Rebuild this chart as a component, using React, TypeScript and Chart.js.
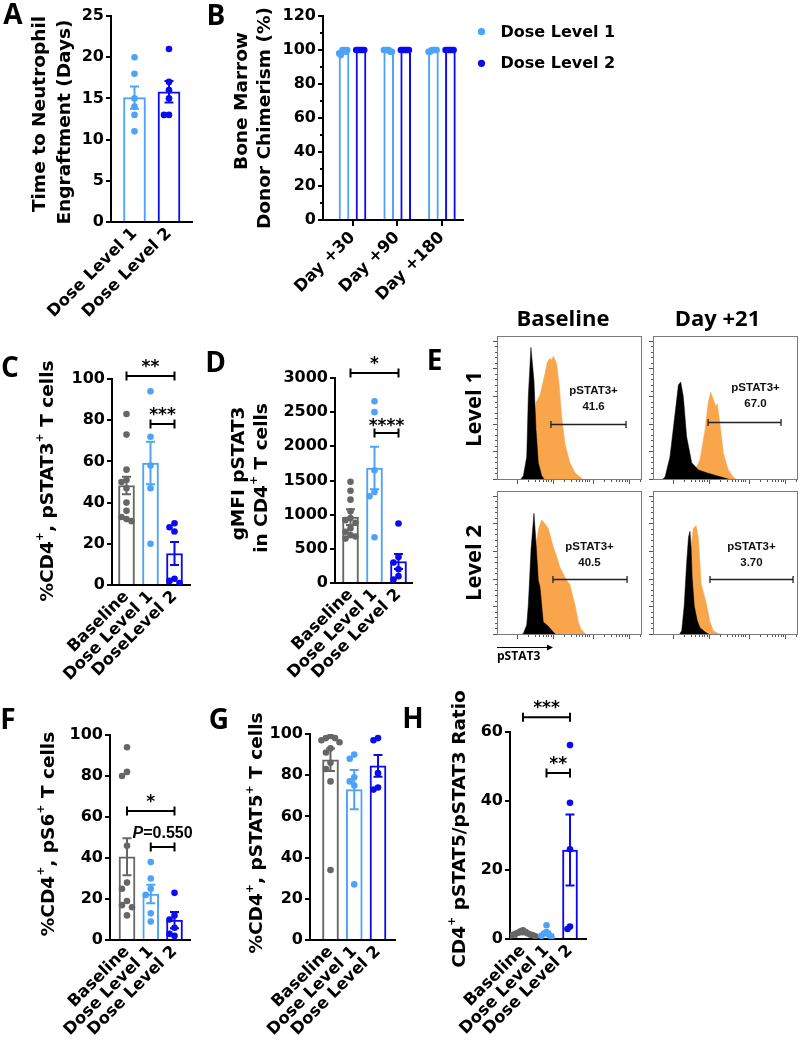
import React, { useEffect, useRef } from 'react';
import { Chart, registerables } from 'chart.js';

Chart.register(...registerables);

const GRAY = '#666666';
const LBLUE = '#4DA3F7';
const DBLUE = '#0A0AF0';
const ORANGE = '#F9A54B';
const FAM = '"DejaVu Sans", sans-serif';
const ARIAL = '"Liberation Sans", Arial, sans-serif';
const CAL = '"Open Sans", sans-serif';

// ---------------- data ----------------
// A
const A_CATS = ['Dose Level 1', 'Dose Level 2'];
const A_MEAN = [15.1, 15.8];
const A_SEM = [1.35, 1.3];
const A_PTS = [[20, 18, 15, 14, 13, 11], [21, 17, 16, 15, 13, 13]];
// B
const B_CATS = ['Day +30', 'Day +90', 'Day +180'];
const B_LEGEND = ['Dose Level 1', 'Dose Level 2'];
const B_L1_MEAN = [99.5, 99.7, 99.7];
const B_L2_MEAN = [100, 100, 100];
const B_L1_PTS = [[100, 100, 99, 97, 100, 98], [100, 100, 99, 100, 99, 100], [100, 100, 100, 99, 100, 99]];
const B_L2_PTS = [[100, 100, 100, 100, 100, 100], [100, 100, 100, 100, 100, 100], [100, 100, 100, 100, 100, 100]];
// C
const C_CATS = ['Baseline', 'Dose Level 1', 'DoseLevel 2'];
const C_MEAN = [48.3, 59.2, 15.3];
const C_SEM = [4.2, 10.3, 5.6];
const C_PTS = [[83, 73, 56, 51, 50, 47, 40, 36, 33, 32, 31], [94, 72, 58, 47, 20], [30, 28, 26, 3, 2, 1]];
// D
const D_CATS = ['Baseline', 'Dose Level 1', 'Dose Level 2'];
const D_MEAN = [965, 1683, 315];
const D_SEM = [115, 312, 110];
const D_PTS = [
  [1480, 1350, 1220, 1050, 950, 920, 880, 800, 750, 700, 680, 650],
  [2660, 2500, 1650, 1330, 1270, 670],
  [870, 380, 300, 200, 100, 50],
];
// E (flow histograms: [channel, % of max])
const E1_BLACK = [[16, 0], [18.2, 3], [20.5, 16], [21.6, 58], [23.4, 92], [25.5, 69], [26.9, 35], [28.5, 12], [30.8, 3], [33, 0]];
const E1_ORANGE = [[22, 0], [24, 20], [26.5, 50], [27, 54], [29.7, 59], [33.1, 74], [34.7, 82], [36.6, 84.5], [37.6, 83], [38.9, 86], [41.1, 81], [43, 65], [44.6, 44], [46.9, 25], [50.3, 12], [53.8, 5], [57.2, 2], [60, 0]];
const E2_BLACK = [[6, 0], [8.3, 2], [11.7, 16], [15.2, 46], [17.5, 66], [19.1, 68], [20.9, 58], [23.2, 30], [26.7, 12], [31.3, 7], [37, 5], [43.9, 3], [50.8, 1], [54, 0]];
const E2_ORANGE = [[27, 0], [29, 7], [32.4, 14], [35.9, 35], [38.1, 54], [39.8, 61], [41.6, 56], [43.4, 51], [44.3, 53], [46.2, 39], [48.5, 19], [51.9, 7], [55.4, 2], [58, 0]];
const E3_BLACK = [[16, 0], [18.2, 1], [20.5, 7], [21.6, 21], [22.3, 35], [23.5, 60], [25.5, 84.5], [26.5, 70], [28.5, 38], [29.7, 33], [31.9, 9], [35.4, 6], [38.8, 2], [41, 0]];
const E3_ORANGE = [[22, 0], [24, 25], [26, 55], [27.4, 66], [29, 75], [30.8, 80], [32.5, 78], [35.4, 74], [37, 68], [38.9, 61], [41, 55], [43.4, 47], [46, 42], [48, 38], [50.3, 35], [52, 28], [53.8, 21], [56.1, 9], [58, 4], [61.8, 0]];
const E4_BLACK = [[18, 0], [19.8, 3], [21.5, 20], [23.2, 50], [24.5, 68], [25.5, 72], [26.3, 60], [27, 40], [28.5, 20], [30.5, 10], [32.4, 5], [36, 2], [39.3, 0]];
const E4_ORANGE = [[22, 0], [24, 30], [26, 60], [27.8, 74], [29.7, 76], [31.2, 68], [32.4, 50], [33.2, 35], [34.7, 30], [37, 21], [39.3, 9], [41.6, 3], [45, 1], [50.8, 0]];
const E_VALUES = ['41.6', '67.0', '40.5', '3.70'];
const E_GATE_LABEL = 'pSTAT3+';
const E_HIST_Y_TICKS = [0, 19.2, 38.4, 57.6, 76.8, 96];
const E_HIST_X_TICKS = [13.5, 38.6, 66.2, 91];
// F
const F_CATS = ['Baseline', 'Dose Level 1', 'Dose Level 2'];
const F_MEAN = [40.6, 22.4, 9.7];
const F_SEM = [9, 4.5, 4];
const F_PTS = [[94, 82, 80, 46, 28, 25, 19, 17, 16, 12], [38, 30, 25, 22, 13, 9], [23, 12, 10, 6, 3, 2]];
// G
const G_CATS = ['Baseline', 'Dose Level 1', 'Dose Level 2'];
const G_MEAN = [87.5, 73, 84.5];
const G_SEM = [5.5, 9.5, 5.3];
const G_PTS = [[99, 98, 98, 97, 96, 93, 91, 86, 83, 77, 34], [90, 88, 79, 77, 75, 27], [98, 97, 81, 74, 73]];
// H
const H_CATS = ['Baseline', 'Dose Level 1', 'Dose Level 2'];
const H_MEAN = [1.6, 1.6, 25.8];
const H_SEM = [0.25, 0.5, 10.3];
const H_PTS = [[2.5, 2.2, 2.0, 1.8, 1.6, 1.5, 1.3, 1.2, 1.1, 1.0, 0.8], [4.0, 2.0, 1.6, 1.2, 0.9, 0.5], [56.2, 39.5, 26, 3.6, 2.9]];

// ---------------- types / helpers ----------------
type Seg = { t: string; sup?: boolean };
type Box = { x: number; y: number; w: number; h: number };
type Series = { colors: string[]; mean: number[]; sem?: number[]; pts: number[][]; off?: number };
type Bracket = { a: number; b: number; y: number; text: string; italic?: string; font?: string; gap?: number };
type BarPanel = {
  box: Box;
  plot: { l: number; t: number; r: number; b: number };
  cats: string[];
  c0: number;
  sp: number;
  yMax: number;
  yStep: number;
  yMinor?: boolean;
  barW: number;
  jitterPx: number;
  series: Series[];
  xTicks?: boolean;
  title: { lines: Seg[][]; xs: number[]; ys: number[] };
  brackets?: Bracket[];
  legend?: { x: number; y: number; label: string; color: string }[];
};

const SEQ = [0, -1, 1, -2, 2, -3, 3, -4, 4, -5, 5];
function jitter(vals: number[], thr: number): number[] {
  const placed: { v: number; k: number }[] = [];
  return vals.map((v) => {
    const used = placed.filter((p) => Math.abs(p.v - v) < thr).map((p) => p.k);
    const k = SEQ.find((s) => !used.includes(s)) ?? 0;
    placed.push({ v, k });
    return k;
  });
}

const TITLE_SIZE = 18.5;
function drawTitle(ctx: CanvasRenderingContext2D, lines: Seg[][], xs: number[], ys: number[]) {
  lines.forEach((segs, li) => {
    const fonts = segs.map((s) => `bold ${s.sup ? 11 : TITLE_SIZE}px ${FAM}`);
    const widths = segs.map((s, k) => {
      ctx.font = fonts[k];
      return ctx.measureText(s.t).width;
    });
    const total = widths.reduce((a, b) => a + b, 0);
    ctx.save();
    ctx.translate(xs[li], ys[li]);
    ctx.rotate(-Math.PI / 2);
    ctx.textBaseline = 'middle';
    ctx.textAlign = 'left';
    ctx.fillStyle = '#000';
    let cx = -total / 2;
    segs.forEach((s, k) => {
      ctx.font = fonts[k];
      ctx.fillText(s.t, cx, s.sup ? -TITLE_SIZE * 0.42 : 0);
      cx += widths[k];
    });
    ctx.restore();
  });
}

function barDecor(p: BarPanel) {
  return {
    id: 'decor',
    afterDatasetDraw(chart: any, args: any) {
      const ds = chart.data.datasets[args.index];
      if (!ds.sem) return;
      const ctx = chart.ctx;
      const x = chart.scales.x;
      const y = chart.scales.y;
      ctx.save();
      ctx.lineWidth = 2;
      ds.data.forEach((d: any, i: number) => {
        const s = ds.sem[i];
        if (!s) return;
        const px = x.getPixelForValue(d.x);
        const y1 = y.getPixelForValue(d.y - s);
        const y2 = y.getPixelForValue(d.y + s);
        ctx.strokeStyle = ds.borderColor[i];
        ctx.beginPath();
        ctx.moveTo(px, y1);
        ctx.lineTo(px, y2);
        ctx.moveTo(px - 4.5, y1);
        ctx.lineTo(px + 4.5, y1);
        ctx.moveTo(px - 4.5, y2);
        ctx.lineTo(px + 4.5, y2);
        ctx.stroke();
      });
      ctx.restore();
    },
    afterDraw(chart: any) {
      const ctx: CanvasRenderingContext2D = chart.ctx;
      const x = chart.scales.x;
      const y = chart.scales.y;
      const ca = chart.chartArea;
      ctx.save();
      if (p.yMinor) {
        ctx.strokeStyle = '#000';
        ctx.lineWidth = 2;
        for (let v = p.yStep / 2; v < p.yMax; v += p.yStep) {
          const py = y.getPixelForValue(v);
          ctx.beginPath();
          ctx.moveTo(ca.left - 3, py);
          ctx.lineTo(ca.left, py);
          ctx.stroke();
        }
      }
      (p.brackets || []).forEach((br) => {
        const x1 = x.getPixelForValue(br.a);
        const x2 = x.getPixelForValue(br.b);
        const yy = y.getPixelForValue(br.y);
        ctx.strokeStyle = '#000';
        ctx.lineWidth = 2;
        ctx.beginPath();
        ctx.moveTo(x1, yy);
        ctx.lineTo(x2, yy);
        ctx.moveTo(x1, yy - 4.5);
        ctx.lineTo(x1, yy + 4.5);
        ctx.moveTo(x2, yy - 4.5);
        ctx.lineTo(x2, yy + 4.5);
        ctx.stroke();
        ctx.fillStyle = '#000';
        ctx.textBaseline = 'alphabetic';
        const gap = br.gap ?? 4;
        const font = br.font || `bold 17px ${FAM}`;
        const mid = (x1 + x2) / 2;
        if (br.italic) {
          const itFont = font.replace('bold', 'italic bold');
          ctx.font = itFont;
          const w1 = ctx.measureText(br.italic).width;
          ctx.font = font;
          const w2 = ctx.measureText(br.text).width;
          const start = mid - (w1 + w2) / 2;
          ctx.textAlign = 'left';
          ctx.font = itFont;
          ctx.fillText(br.italic, start, yy - gap);
          ctx.font = font;
          ctx.fillText(br.text, start + w1, yy - gap);
        } else {
          ctx.textAlign = 'center';
          ctx.font = font;
          ctx.fillText(br.text, mid, yy - gap);
        }
      });
      const bx = p.box.x;
      const by = p.box.y;
      drawTitle(ctx, p.title.lines, p.title.xs.map((v) => v - bx), p.title.ys.map((v) => v - by));
      (p.legend || []).forEach((it) => {
        ctx.fillStyle = it.color;
        ctx.beginPath();
        ctx.arc(it.x - bx, it.y - by, 3.6, 0, Math.PI * 2);
        ctx.fill();
        ctx.fillStyle = '#000';
        ctx.font = `bold 16px ${FAM}`;
        ctx.textAlign = 'left';
        ctx.textBaseline = 'middle';
        ctx.fillText(it.label, it.x - bx + 19, it.y - by + 1);
      });
      ctx.restore();
    },
  };
}

function makeBarConfig(p: BarPanel): any {
  const xMin = (p.plot.l - p.c0) / p.sp;
  const xMax = (p.plot.r - p.c0) / p.sp;
  const thr = (p.yMax * 6.5) / (p.plot.b - p.plot.t);
  const datasets: any[] = [];
  p.series.forEach((s) => {
    const off = s.off || 0;
    datasets.push({
      type: 'bar',
      data: s.mean.map((m, i) => ({ x: i + off, y: m })),
      backgroundColor: '#ffffff',
      borderColor: s.colors,
      borderWidth: 2,
      barThickness: p.barW,
      grouped: false,
      order: 5,
      sem: s.sem,
    });
  });
  p.series.forEach((s) => {
    const off = s.off || 0;
    const pts: any[] = [];
    const cols: string[] = [];
    s.pts.forEach((arr, i) => {
      const ks = jitter(arr, thr);
      arr.forEach((v, j) => {
        pts.push({ x: i + off + (ks[j] * p.jitterPx) / p.sp, y: v });
        cols.push(s.colors[i]);
      });
    });
    datasets.push({
      type: 'scatter',
      data: pts,
      pointRadius: 3.3,
      pointBackgroundColor: cols,
      pointBorderColor: cols,
      pointBorderWidth: 0,
      order: 1,
    });
  });
  const yFont = { family: FAM, size: 16, weight: 'bold' as const };
  const xFont = { family: FAM, size: 16.5, weight: 'bold' as const };
  return {
    type: 'bar',
    data: { datasets },
    options: {
      responsive: false,
      animation: false,
      layout: {
        padding: { left: 0, bottom: 0, top: p.plot.t - p.box.y, right: p.box.x + p.box.w - p.plot.r },
      },
      plugins: { legend: { display: false }, tooltip: { enabled: false } },
      scales: {
        x: {
          type: 'linear',
          min: xMin,
          max: xMax,
          offset: false,
          afterBuildTicks: (s: any) => {
            s.ticks = p.cats.map((_, i) => ({ value: i }));
          },
          ticks: {
            autoSkip: false,
            minRotation: 45,
            maxRotation: 45,
            padding: 2,
            color: '#000',
            font: xFont,
            callback: (v: any) => p.cats[v] ?? '',
          },
          grid: {
            display: !!p.xTicks,
            offset: false,
            drawOnChartArea: false,
            drawTicks: !!p.xTicks,
            tickLength: 6,
            color: '#000',
            lineWidth: 2,
          },
          border: { display: true, color: '#000', width: 2 },
          afterFit: (s: any) => {
            s.height = p.box.y + p.box.h - p.plot.b;
          },
        },
        y: {
          type: 'linear',
          min: 0,
          max: p.yMax,
          ticks: { stepSize: p.yStep, padding: 2, color: '#000', font: yFont, callback: (v: any) => String(v) },
          grid: { drawOnChartArea: false, drawTicks: true, tickLength: 5, color: '#000', lineWidth: 2 },
          border: { display: true, color: '#000', width: 2 },
          afterFit: (s: any) => {
            s.width = p.plot.l - p.box.x;
          },
        },
      },
    },
    plugins: [barDecor(p)],
  };
}

type HistP = {
  l: number;
  t: number;
  r: number;
  b: number;
  black: number[][];
  orange: number[][];
  gate: number[];
  text: number[];
  value: string;
  axis?: boolean;
};

function histBox(h: HistP): Box {
  return { x: h.l - 8, y: h.t - 4, w: h.r - h.l + 12, h: h.b - h.t + 34 };
}

function makeHistConfig(h: HistP): any {
  return {
    type: 'line',
    data: {
      datasets: [
        {
          data: h.black.map(([x, y]) => ({ x, y })),
          borderColor: '#000',
          backgroundColor: '#000',
          borderWidth: 0.5,
          fill: 'origin',
          pointRadius: 0,
          tension: 0,
          order: 0,
        },
        {
          data: h.orange.map(([x, y]) => ({ x, y })),
          borderColor: ORANGE,
          backgroundColor: ORANGE,
          borderWidth: 0.5,
          fill: 'origin',
          pointRadius: 0,
          tension: 0,
          order: 1,
        },
      ],
    },
    options: {
      responsive: false,
      animation: false,
      layout: { padding: { left: 8, top: 4, right: 4, bottom: 30 } },
      plugins: { legend: { display: false }, tooltip: { enabled: false } },
      scales: {
        x: { type: 'linear', min: 0, max: 100, display: false },
        y: { type: 'linear', min: 0, max: 100, display: false },
      },
    },
    plugins: [
      {
        id: 'histDecor',
        afterDraw(chart: any) {
          const ctx: CanvasRenderingContext2D = chart.ctx;
          const x = chart.scales.x;
          const y = chart.scales.y;
          const { left, right, top, bottom } = chart.chartArea;
          ctx.save();
          ctx.strokeStyle = '#7a7a7a';
          ctx.lineWidth = 1;
          ctx.strokeRect(left + 0.5, top + 0.5, right - left - 1, bottom - top - 1);
          ctx.strokeStyle = '#555';
          const line = (x1: number, y1: number, x2: number, y2: number) => {
            ctx.beginPath();
            ctx.moveTo(x1, y1);
            ctx.lineTo(x2, y2);
            ctx.stroke();
          };
          E_HIST_Y_TICKS.forEach((v, i) => {
            const py = Math.round(y.getPixelForValue(v)) - 0.5;
            line(left - 4, py, left, py);
            if (i < E_HIST_Y_TICKS.length - 1) {
              const step = (E_HIST_Y_TICKS[i + 1] - v) / 5;
              for (let k = 1; k < 5; k++) {
                const pm = Math.round(y.getPixelForValue(v + k * step)) - 0.5;
                line(left - 2, pm, left, pm);
              }
            }
          });
          E_HIST_X_TICKS.forEach((v) => {
            const px = Math.round(x.getPixelForValue(v)) + 0.5;
            line(px, bottom, px, bottom + 4);
            for (let k = 2; k < 10; k++) {
              const vm = v + Math.log10(k) * 26;
              if (vm < 100) {
                const pm = Math.round(x.getPixelForValue(vm)) + 0.5;
                line(pm, bottom, pm, bottom + 2);
              }
            }
          });
          const [g1, g2, gy] = h.gate;
          const gx1 = x.getPixelForValue(g1);
          const gx2 = x.getPixelForValue(g2);
          const gpy = Math.round(y.getPixelForValue(gy)) + 0.5;
          ctx.strokeStyle = '#222';
          ctx.lineWidth = 1.3;
          line(gx1, gpy, gx2, gpy);
          line(gx1, gpy - 3.5, gx1, gpy + 3.5);
          line(gx2, gpy - 3.5, gx2, gpy + 3.5);
          ctx.fillStyle = '#111';
          ctx.font = `bold 11.5px ${ARIAL}`;
          ctx.textAlign = 'center';
          ctx.textBaseline = 'middle';
          ctx.fillText(E_GATE_LABEL, x.getPixelForValue(h.text[0]), y.getPixelForValue(h.text[1]));
          ctx.fillText(h.value, x.getPixelForValue(h.text[0]), y.getPixelForValue(h.text[2]));
          if (h.axis) {
            const ay = bottom + 12.5;
            ctx.strokeStyle = '#000';
            ctx.lineWidth = 1.2;
            line(left, ay, left + 53, ay);
            ctx.fillStyle = '#000';
            ctx.beginPath();
            ctx.moveTo(left + 56, ay);
            ctx.lineTo(left + 50, ay - 3);
            ctx.lineTo(left + 50, ay + 3);
            ctx.closePath();
            ctx.fill();
            ctx.font = `bold 12px ${CAL}`;
            ctx.textAlign = 'left';
            ctx.textBaseline = 'alphabetic';
            ctx.fillText('pSTAT3', left, bottom + 25);
          }
          ctx.restore();
        },
      },
    ],
  };
}

// ---------------- layout ----------------
const PANEL_A: BarPanel = {
  box: { x: 0, y: 0, w: 205, h: 345 },
  plot: { l: 111, t: 16, r: 192, b: 222 },
  cats: A_CATS,
  c0: 134.5,
  sp: 34.5,
  yMax: 25,
  yStep: 5,
  barW: 22,
  jitterPx: 5,
  series: [{ colors: [LBLUE, DBLUE], mean: A_MEAN, sem: A_SEM, pts: A_PTS }],
  title: { lines: [[{ t: 'Time to Neutrophil' }], [{ t: 'Engraftment (Days)' }]], xs: [40, 65], ys: [114, 122] },
};

const PANEL_B: BarPanel = {
  box: { x: 195, y: 0, w: 450, h: 345 },
  plot: { l: 323, t: 16, r: 463, b: 220 },
  cats: B_CATS,
  c0: 352.5,
  sp: 44.7,
  yMax: 120,
  yStep: 20,
  yMinor: true,
  barW: 10,
  jitterPx: 1.6,
  xTicks: true,
  series: [
    { colors: [LBLUE, LBLUE, LBLUE], mean: B_L1_MEAN, pts: B_L1_PTS, off: -0.19 },
    { colors: [DBLUE, DBLUE, DBLUE], mean: B_L2_MEAN, pts: B_L2_PTS, off: 0.19 },
  ],
  title: { lines: [[{ t: 'Bone Marrow' }], [{ t: 'Donor Chimerism (%)' }]], xs: [242.5, 265], ys: [101, 118] },
  legend: [
    { x: 481.5, y: 31.7, label: B_LEGEND[0], color: LBLUE },
    { x: 481.5, y: 63.3, label: B_LEGEND[1], color: DBLUE },
  ],
};

const COLS3 = [GRAY, LBLUE, DBLUE];

const PANEL_C: BarPanel = {
  box: { x: 0, y: 340, w: 205, h: 360 },
  plot: { l: 112, t: 379, r: 190, b: 585 },
  cats: C_CATS,
  c0: 126.5,
  sp: 24,
  yMax: 100,
  yStep: 20,
  barW: 16,
  jitterPx: 5,
  series: [{ colors: COLS3, mean: C_MEAN, sem: C_SEM, pts: C_PTS }],
  title: {
    lines: [[{ t: '%CD4' }, { t: '+', sup: true }, { t: ', pSTAT3' }, { t: '+', sup: true }, { t: ' T cells' }]],
    xs: [48],
    ys: [481],
  },
  brackets: [
    { a: 0, b: 2, y: 101.5, text: '**' },
    { a: 1, b: 2, y: 78.2, text: '***' },
  ],
};

const PANEL_D: BarPanel = {
  box: { x: 205, y: 335, w: 225, h: 365 },
  plot: { l: 335, t: 378, r: 412, b: 583 },
  cats: D_CATS,
  c0: 350.5,
  sp: 24,
  yMax: 3000,
  yStep: 500,
  barW: 16,
  jitterPx: 5,
  series: [{ colors: COLS3, mean: D_MEAN, sem: D_SEM, pts: D_PTS }],
  title: {
    lines: [[{ t: 'gMFI pSTAT3' }], [{ t: 'in CD4' }, { t: '+', sup: true }, { t: ' T cells' }]],
    xs: [239, 262],
    ys: [473.5, 478],
  },
  brackets: [
    { a: 0, b: 2, y: 3073, text: '*' },
    { a: 1, b: 2, y: 2195, text: '****', gap: 2 },
  ],
};

const PANEL_F: BarPanel = {
  box: { x: 0, y: 700, w: 215, h: 350 },
  plot: { l: 110, t: 735, r: 190, b: 940 },
  cats: F_CATS,
  c0: 127,
  sp: 23.75,
  yMax: 100,
  yStep: 20,
  barW: 16,
  jitterPx: 5,
  series: [{ colors: COLS3, mean: F_MEAN, sem: F_SEM, pts: F_PTS }],
  title: {
    lines: [[{ t: '%CD4' }, { t: '+', sup: true }, { t: ', pS6' }, { t: '+', sup: true }, { t: ' T cells' }]],
    xs: [49],
    ys: [834],
  },
  brackets: [
    { a: 0, b: 2, y: 62.9, text: '*' },
    { a: 1, b: 2, y: 45.4, italic: 'P', text: '=0.550', font: `bold 16px ${ARIAL}`, gap: 9 },
  ],
};

const PANEL_G: BarPanel = {
  box: { x: 200, y: 700, w: 205, h: 350 },
  plot: { l: 310, t: 734, r: 395, b: 940 },
  cats: G_CATS,
  c0: 330.5,
  sp: 23.75,
  yMax: 100,
  yStep: 20,
  barW: 16,
  jitterPx: 4.5,
  series: [{ colors: COLS3, mean: G_MEAN, sem: G_SEM, pts: G_PTS }],
  title: {
    lines: [[{ t: '%CD4' }, { t: '+', sup: true }, { t: ', pSTAT5' }, { t: '+', sup: true }, { t: ' T cells' }]],
    xs: [257.5],
    ys: [833],
  },
};

const PANEL_H: BarPanel = {
  box: { x: 400, y: 680, w: 200, h: 370 },
  plot: { l: 510, t: 732, r: 586, b: 939 },
  cats: H_CATS,
  c0: 523,
  sp: 23.5,
  yMax: 60,
  yStep: 20,
  barW: 15,
  jitterPx: 2.5,
  series: [{ colors: COLS3, mean: H_MEAN, sem: H_SEM, pts: H_PTS }],
  title: {
    lines: [[{ t: 'CD4' }, { t: '+', sup: true }, { t: ' pSTAT5/pSTAT3 Ratio' }]],
    xs: [460],
    ys: [829],
  },
  brackets: [
    { a: 0, b: 2, y: 64.3, text: '***' },
    { a: 1, b: 2, y: 48.1, text: '**' },
  ],
};

const HISTS: HistP[] = [
  { l: 497, t: 336, r: 642, b: 480, black: E1_BLACK, orange: E1_ORANGE, gate: [37.2, 89, 39], text: [66.6, 62, 51], value: E_VALUES[0] },
  { l: 653, t: 336, r: 798, b: 480, black: E2_BLACK, orange: E2_ORANGE, gate: [38, 88.3, 40], text: [70.7, 64, 53], value: E_VALUES[1] },
  { l: 497, t: 491, r: 642, b: 635, black: E3_BLACK, orange: E3_ORANGE, gate: [38.6, 89.7, 39], text: [63.8, 61, 50], value: E_VALUES[2], axis: true },
  { l: 653, t: 491, r: 798, b: 635, black: E4_BLACK, orange: E4_ORANGE, gate: [39.3, 96.6, 39], text: [67.9, 61, 50], value: E_VALUES[3] },
];

const LETTERS: [string, number, number][] = [
  ['A', 13, 13],
  ['B', 216, 13.5],
  ['C', 10, 366],
  ['D', 215.5, 361],
  ['E', 434.5, 359],
  ['F', 8, 717.5],
  ['G', 219, 718],
  ['H', 413, 717],
];

// ---------------- components ----------------
function ChartBox({ box, make }: { box: Box; make: () => any }) {
  const ref = useRef<HTMLCanvasElement>(null);
  useEffect(() => {
    const c = new Chart(ref.current as HTMLCanvasElement, make());
    return () => c.destroy();
  }, []);
  return (
    <canvas
      ref={ref}
      width={box.w}
      height={box.h}
      style={{ position: 'absolute', left: box.x, top: box.y, width: box.w, height: box.h }}
    />
  );
}

function Txt({ x, y, text, size, family, rot }: { x: number; y: number; text: string; size: number; family: string; rot?: boolean }) {
  return (
    <div
      style={{
        position: 'absolute',
        left: x,
        top: y,
        transform: `translate(-50%, -50%)${rot ? ' rotate(-90deg)' : ''}`,
        fontFamily: family,
        fontWeight: 700,
        fontSize: size,
        lineHeight: 1,
        whiteSpace: 'nowrap',
        color: '#000',
      }}
    >
      {text}
    </div>
  );
}

export default function App() {
  const panels = [PANEL_A, PANEL_B, PANEL_C, PANEL_D, PANEL_F, PANEL_G, PANEL_H];
  return (
    <div style={{ position: 'absolute', left: 0, top: 0, width: 800, height: 1050, overflow: 'hidden', background: '#fff' }}>
      {panels.map((p, i) => (
        <ChartBox key={'p' + i} box={p.box} make={() => makeBarConfig(p)} />
      ))}
      {HISTS.map((h, i) => (
        <ChartBox key={'h' + i} box={histBox(h)} make={() => makeHistConfig(h)} />
      ))}
      {LETTERS.map(([t, x, y]) => (
        <Txt key={t} x={x} y={y} text={t} size={28} family={CAL} />
      ))}
      <Txt x={563} y={316.5} text="Baseline" size={22} family={CAL} />
      <Txt x={717.5} y={316.5} text="Day +21" size={22} family={CAL} />
      <Txt x={472} y={409} text="Level 1" size={22} family={CAL} rot />
      <Txt x={472} y={563} text="Level 2" size={22} family={CAL} rot />
    </div>
  );
}
